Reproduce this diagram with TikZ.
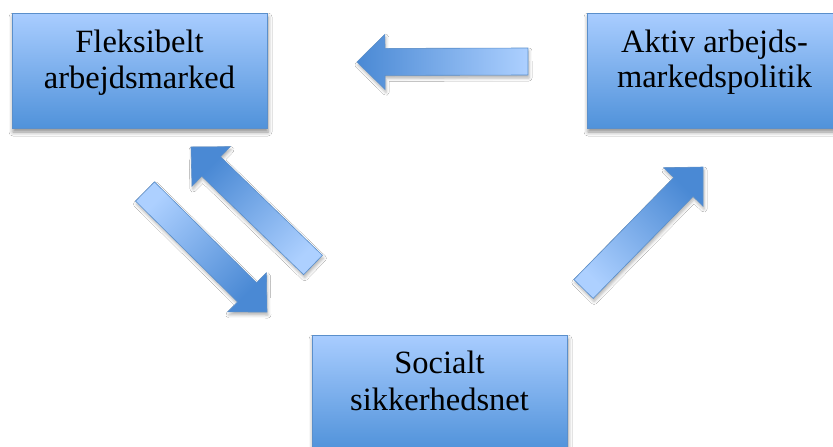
\documentclass[tikz,border=0pt]{standalone}
\usepackage{fontspec}
\setmainfont{Liberation Serif}
\usetikzlibrary{calc,shadows.blur}
\definecolor{boxtop}{HTML}{A9CDFF}
\definecolor{boxbot}{HTML}{5092DA}
\definecolor{boxline}{HTML}{5A8FCB}
\definecolor{arrdark}{HTML}{4A89D4}
\definecolor{arrlight}{HTML}{ADD0FF}
\tikzset{
  box/.style={rectangle, draw=boxline, line width=0.8pt, top color=boxtop, bottom color=boxbot,
    minimum width=255pt, minimum height=115pt, inner sep=0pt,
    blur shadow={shadow xshift=1pt, shadow yshift=-4pt, shadow blur radius=4pt, shadow opacity=45}},
  lbl/.style={anchor=base, font=\fontsize{32.5pt}{36pt}\selectfont, inner sep=0pt},
  barrow/.style={draw=boxline, line width=0.6pt, line join=miter, top color=arrdark, bottom color=arrlight,
    blur shadow={shadow xshift=1pt, shadow yshift=-3pt, shadow blur radius=3pt, shadow opacity=30}},
}
% #1 tail coordinate, #2 tip coordinate, #3 shading angle (dark end toward the tip)
\newcommand\blockarrow[3]{%
  \coordinate (#1hb) at ($(#2)!28pt!(#1)$);
  \path[barrow, shading angle=#3]
    ($(#1)!13.5pt!90:(#2)$) -- ($(#1hb)!13.5pt!-90:(#1)$) -- ($(#1hb)!27.5pt!-90:(#1)$) -- (#2)
    -- ($(#1hb)!27.5pt!90:(#1)$) -- ($(#1hb)!13.5pt!90:(#1)$) -- ($(#1)!13.5pt!-90:(#2)$) -- cycle;
}
\begin{document}
\begin{tikzpicture}[x=1pt, y=-1pt]
  \useasboundingbox (0,0) rectangle (833,447);
  \fill[white] (0,0) rectangle (833,447);
  \clip (0,0) rectangle (833,447);

  % boxes
  \node[box] (flex) at (139.5,70.5) {};
  \node[box] (aktiv) at (714.5,70.5) {};
  \node[box] (social) at (439.5,392.5) {};

  % labels
  \node[lbl] (flexa) at (139.5,52) {Fleksibelt};
  \node[lbl] (flexb) at (139.5,88) {arbejdsmarked};
  \node[lbl] (aktiva) at (714.5,52) {Aktiv arbejds-};
  \node[lbl] (aktivb) at (714.5,87) {markedspolitik};
  \node[lbl] (sociala) at (439.5,373) {Socialt};
  \node[lbl] (socialb) at (439.5,410) {sikkerhedsnet};

  % block arrows
  \coordinate (topTail) at (528,61.5);
  \coordinate (topTip) at (357,62);
  \coordinate (drTail) at (145,191.5);
  \coordinate (drTip) at (267,312);
  \coordinate (ulTail) at (313,265);
  \coordinate (ulTip) at (191,147);
  \coordinate (urTail) at (583.5,289);
  \coordinate (urTip) at (703,167);

  \blockarrow{topTail}{topTip}{90}
  \blockarrow{drTail}{drTip}{225}
  \blockarrow{ulTail}{ulTip}{45}
  \blockarrow{urTail}{urTip}{315}
\end{tikzpicture}
\end{document}
